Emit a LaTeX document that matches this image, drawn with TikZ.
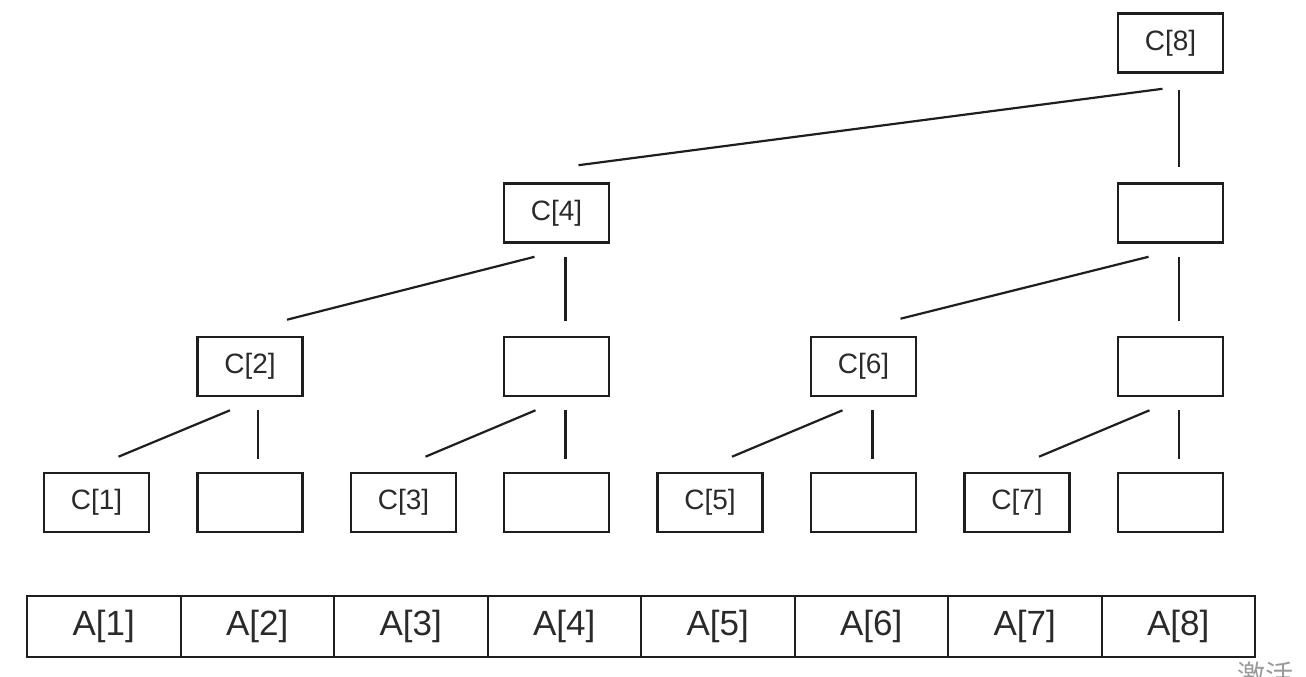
\documentclass[tikz,border=0pt]{standalone}
\usepackage{fontspec}
\setmainfont{Liberation Sans}
\newfontfamily\cjkfont{Noto Sans CJK SC}
\usetikzlibrary{calc}
\definecolor{ink}{HTML}{1E1E1E}
\definecolor{txt}{HTML}{2A2A2A}
\tikzset{
  cbox/.style={draw=ink, line width=2.6pt, rectangle, minimum width=105pt, minimum height=59pt, inner sep=0pt,
    font=\fontsize{28}{30}\selectfont, text=txt},
  acell/.style={draw=ink, line width=2pt, rectangle, minimum width=153.5pt, minimum height=61pt, inner sep=0pt,
    font=\fontsize{35}{40}\selectfont, text=txt},
  link/.style={draw=ink, line width=2.2pt},
}
\begin{document}
\begin{tikzpicture}[x=1pt,y=-1pt]
\useasboundingbox (0,0) rectangle (1306,677);
\clip (0,0) rectangle (1306,677);
% row 1
\node[cbox] (c8) at (1170.5,43) {C[8]};
% row 2
\node[cbox] (c4) at (556.5,213) {C[4]};
\node[cbox] (b8) at (1170.5,213) {};
% row 3
\node[cbox] (c2) at (250,366.5) {C[2]};
\node[cbox] (b4) at (556.5,366.5) {};
\node[cbox] (c6) at (863.5,366.5) {C[6]};
\node[cbox] (d8) at (1170.5,366.5) {};
% row 4
\node[cbox] (c1) at (96.5,502.5) {C[1]};
\node[cbox] (e2) at (250,502.5) {};
\node[cbox] (c3) at (403.5,502.5) {C[3]};
\node[cbox] (e4) at (556.5,502.5) {};
\node[cbox] (c5) at (710,502.5) {C[5]};
\node[cbox] (e6) at (863.5,502.5) {};
\node[cbox] (c7) at (1017,502.5) {C[7]};
\node[cbox] (e8) at (1170.5,502.5) {};
% connectors level 1
\draw[link] ($(c8.south)+(-8,15)$) -- ($(c4.north)+(22,-17)$);
\draw[link] ($(c8.south)+(8.5,16)$) -- ($(b8.north)+(8.5,-15)$);
% level 2
\draw[link] ($(c4.south)+(-22,13)$) -- ($(c2.north)+(37,-16)$);
\draw[link] ($(c4.south)+(9,13)$) -- ($(b4.north)+(9,-15)$);
\draw[link] ($(b8.south)+(-22,13)$) -- ($(c6.north)+(37,-17)$);
\draw[link] ($(b8.south)+(8.5,13)$) -- ($(d8.north)+(8.5,-15)$);
% level 3
\draw[link] ($(c2.south)+(-20,13)$) -- ($(c1.north)+(22,-15)$);
\draw[link] ($(c2.south)+(8,13)$) -- ($(e2.north)+(8,-13)$);
\draw[link] ($(b4.south)+(-21,13)$) -- ($(c3.north)+(22,-15)$);
\draw[link] ($(b4.south)+(9,13)$) -- ($(e4.north)+(9,-13)$);
\draw[link] ($(c6.south)+(-21,13)$) -- ($(c5.north)+(22,-15)$);
\draw[link] ($(c6.south)+(9,13)$) -- ($(e6.north)+(9,-13)$);
\draw[link] ($(d8.south)+(-21,13)$) -- ($(c7.north)+(22,-15)$);
\draw[link] ($(d8.south)+(8.5,13)$) -- ($(e8.north)+(8.5,-13)$);
% array A
\foreach \i in {1,...,8}{
  \node[acell] (a\i) at ({27+153.5*(\i-0.5)},626) {A[\i]};
}
% watermark (cut off at the lower edge, as in the reference)
\node[anchor=north west, inner sep=0pt, text=black!40, font=\cjkfont\fontsize{28}{30}\selectfont] (wm) at (1237,662) {激活};
\end{tikzpicture}
\end{document}
